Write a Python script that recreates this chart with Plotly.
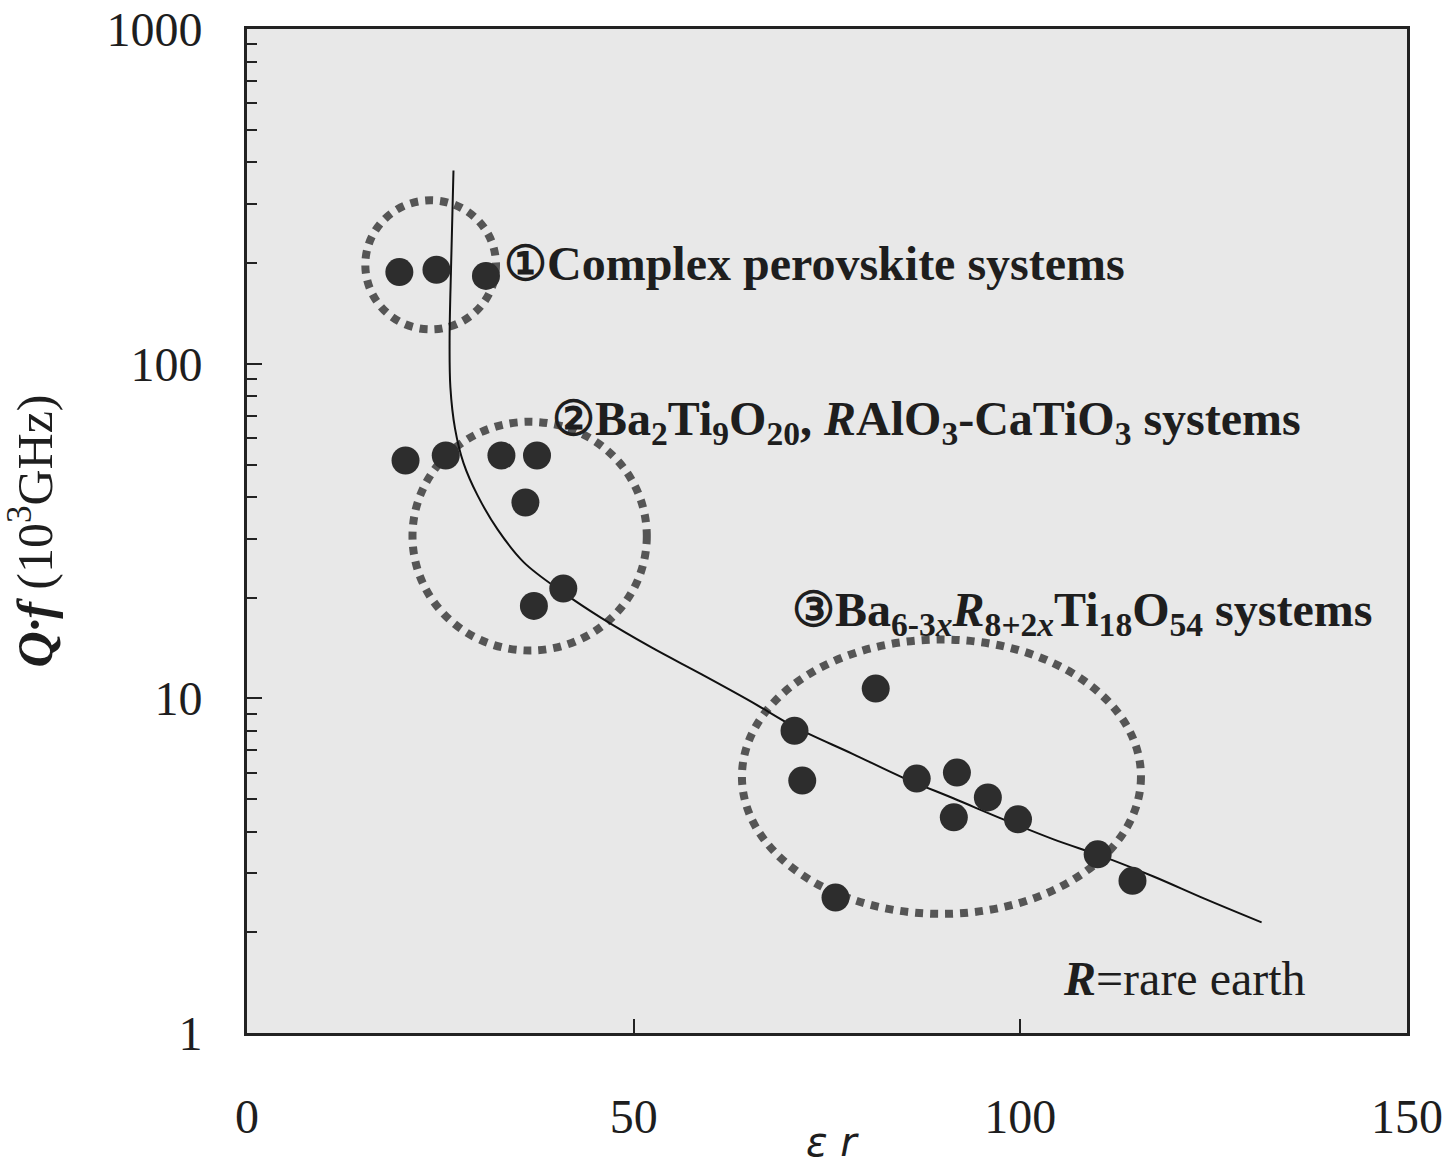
import math
import plotly.graph_objects as go

# ---- data ----
group1_er = [19.7, 24.5, 30.9]
group1_qf = [188, 191, 183]

group2_er = [20.5, 25.7, 32.9, 37.5, 36.0, 37.1, 40.9]
group2_qf = [51.4, 53.2, 53.2, 53.2, 38.5, 18.9, 21.3]

group3_er = [81.3, 70.8, 71.8, 86.6, 91.8, 95.8, 99.7, 91.4, 110.0, 114.5, 76.1]
group3_qf = [10.7, 8.0, 5.68, 5.76, 6.0, 5.06, 4.35, 4.41, 3.42, 2.85, 2.54]

curve_er = [26.7, 26.4, 26.2, 26.3, 26.9, 28.0, 29.8, 32.4, 35.8, 40.9, 45.8, 52.3, 58.8,
            65.3, 70.8, 78.3, 84.8, 91.4, 97.8, 104.3, 110.8, 117.3, 123.8, 131.2]
curve_qf = [378, 200, 120, 85, 64, 50.5, 40.5, 32.0, 25.5, 20.7, 17.4, 14.2, 11.8,
            9.75, 8.22, 6.83, 5.80, 5.02, 4.35, 3.79, 3.36, 2.93, 2.52, 2.14]

x_ticks = [0, 50, 100, 150]
y_ticks = [1, 10, 100, 1000]

# group outline ellipses (x0, x1, y0, y1) in data units
ellipses = [
    (15.3, 32.2, 126.7, 308),
    (21.4, 51.7, 13.9, 67.1),
    (64.0, 115.6, 2.27, 15.0),
]

SERIF = "Liberation Serif, Times New Roman, serif"
DOT = "#2d2d2d"
TOP, BOT = 29, 1033

fig = go.Figure()

fig.add_trace(go.Scatter(x=curve_er, y=curve_qf, mode="lines",
                         line=dict(color="#111111", width=2, shape="spline", smoothing=1.0),
                         showlegend=False, hoverinfo="skip"))

for ex, ey, name in [(group1_er, group1_qf, "Complex perovskite"),
                     (group2_er, group2_qf, "Ba2Ti9O20, RAlO3-CaTiO3"),
                     (group3_er, group3_qf, "Ba6-3xR8+2xTi18O54")]:
    fig.add_trace(go.Scatter(x=ex, y=ey, mode="markers", name=name,
                             marker=dict(color=DOT, size=28, line=dict(width=0)),
                             showlegend=False))

for (x0, x1, y0, y1) in ellipses:
    fig.add_shape(type="circle", xref="x", yref="y", x0=x0, x1=x1, y0=y0, y1=y1,
                  line=dict(color="#555555", width=8, dash="8px,7px"), layer="below")

txt_font = dict(family=SERIF, size=48, color="#1e1e1e")
annots = [
    dict(x=33.0, y=200, text="<b>①Complex perovskite systems</b>"),
    dict(x=39.2, y=67.1,
         text="<b>②Ba<sub>2</sub>Ti<sub>9</sub>O<sub>20</sub>, <i>R</i>AlO<sub>3</sub>-CaTiO<sub>3</sub> systems</b>"),
    dict(x=70.2, y=18.0,
         text="<b>③Ba<sub>6-3<i>x</i></sub><i>R</i><sub>8+2<i>x</i></sub>Ti<sub>18</sub>O<sub>54</sub> systems</b>"),
    dict(x=105.2, y=1.456, text="<b><i>R</i></b>=rare earth"),
]
for a in annots:
    fig.add_annotation(x=a["x"], y=math.log10(a["y"]), xref="x", yref="y", text=a["text"],
                       showarrow=False, xanchor="left", yanchor="middle", font=txt_font)

# x-axis title (placed between the tick labels as in the reference)
fig.add_annotation(x=0.505, y=-(1142 - BOT) / (BOT - TOP), xref="paper", yref="paper",
                   text="<i>ε r</i>", showarrow=False, yanchor="middle",
                   font=dict(family="DejaVu Sans, Arial, sans-serif", size=40, color="#1e1e1e"))

fig.update_layout(
    width=1450, height=1168,
    margin=dict(l=247, r=43, t=TOP, b=1168 - BOT, autoexpand=False),
    paper_bgcolor="white",
    plot_bgcolor="#e8e8e8",
    showlegend=False,
)

fig.update_xaxes(
    range=[0, 150], tickvals=x_ticks, ticktext=[str(v) for v in x_ticks],
    ticks="inside", ticklen=14, tickwidth=1.5, tickcolor="#222",
    showline=True, linecolor="#222", linewidth=3, mirror=True,
    showgrid=False, zeroline=False, automargin=False,
    tickfont=dict(family=SERIF, size=48, color="#1e1e1e"),
    ticklabelstandoff=39, ticklabeloverflow="allow",
)
fig.update_yaxes(
    type="log", range=[0, 3.0005], tickvals=y_ticks, ticktext=[str(v) for v in y_ticks],
    ticks="inside", ticklen=15, tickwidth=2, tickcolor="#222",
    minor=dict(ticks="inside", ticklen=10, tickwidth=2, tickcolor="#222", showgrid=False,
               tickvals=[m * d for d in (1, 10, 100) for m in range(2, 10)]),
    showline=True, linecolor="#222", linewidth=3, mirror=True,
    showgrid=False, zeroline=False, automargin=False,
    tickfont=dict(family=SERIF, size=48, color="#1e1e1e"),
    ticklabelstandoff=32, ticklabeloverflow="allow",
    title=dict(text="<b><i>Q·f</i></b> (10<sup>3</sup>GHz)",
               font=dict(family=SERIF, size=50, color="#1e1e1e"), standoff=44),
)

fig.write_html("out.html")
